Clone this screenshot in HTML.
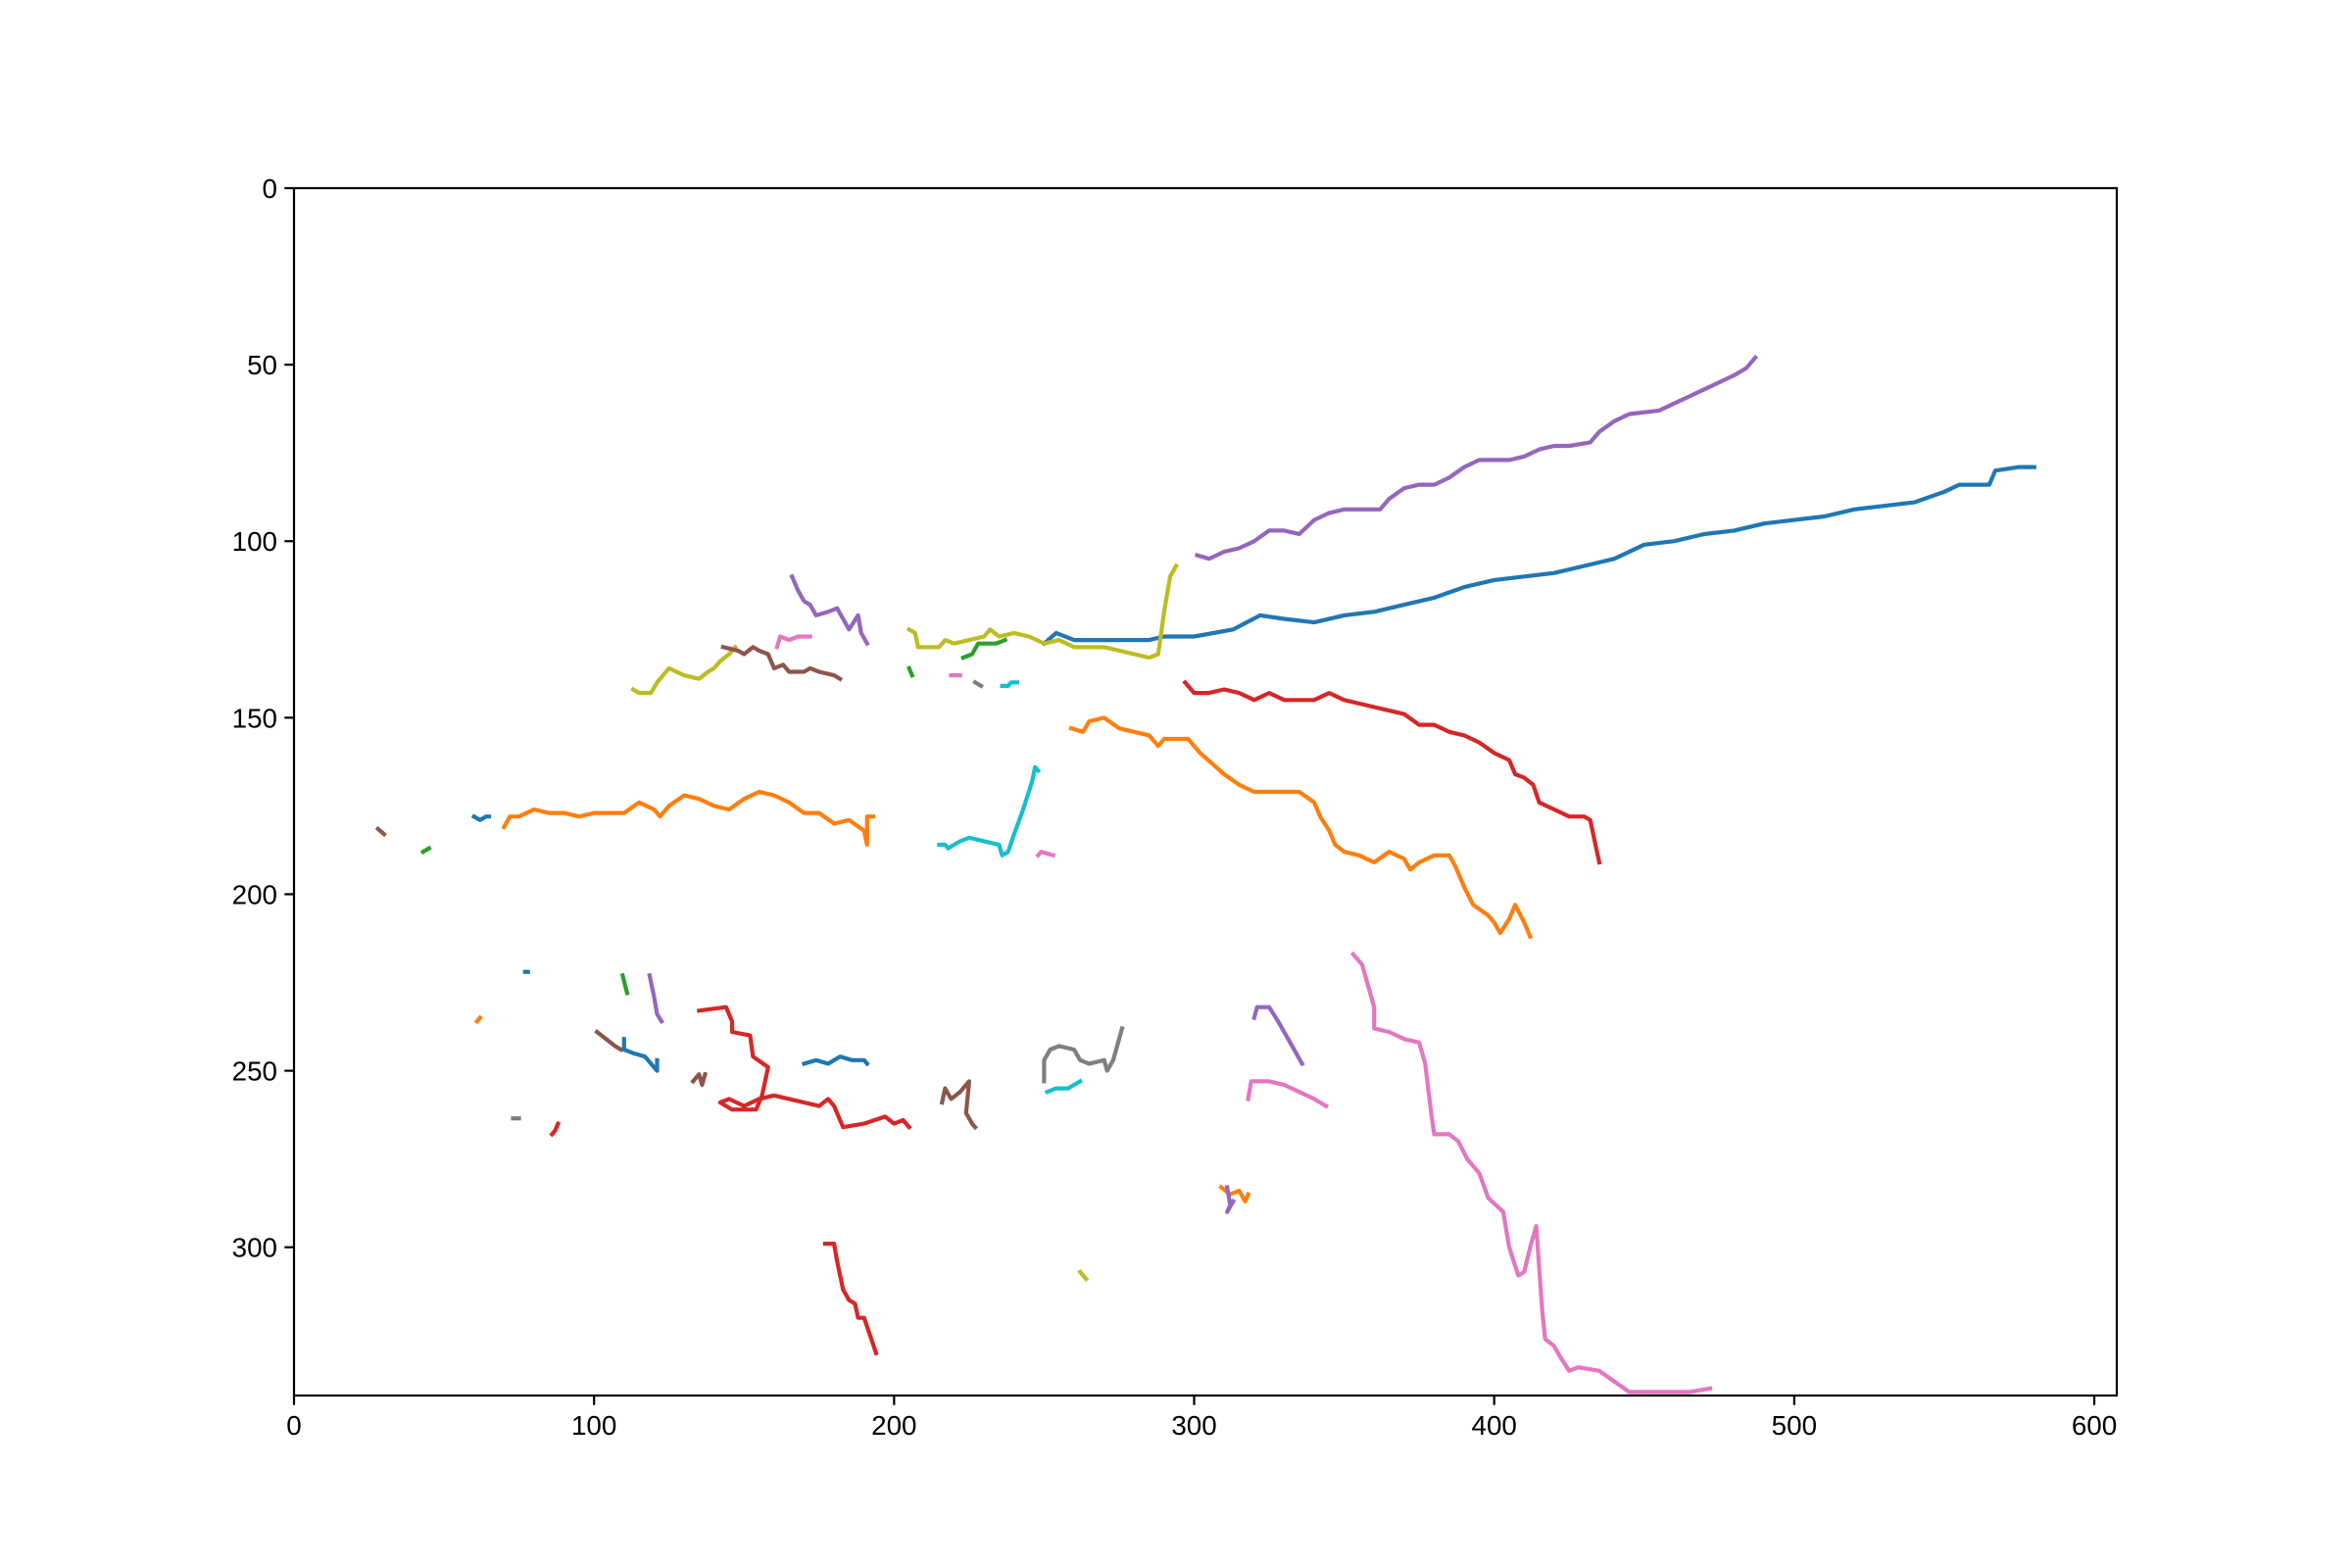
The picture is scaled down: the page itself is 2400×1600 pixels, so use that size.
<!DOCTYPE html>
<html><head><meta charset="utf-8"><style>
html,body{margin:0;padding:0;background:#fff;}
svg{display:block;font-family:"Liberation Sans","DejaVu Sans",sans-serif;}
</style></head><body>
<svg id="chart" width="2400" height="1600" viewBox="0 0 2400 1600" xmlns="http://www.w3.org/2000/svg">
<rect width="2400" height="1600" fill="#fff"/>
<g id="plot"></g>
<g id="axes"></g>
</svg>
<script>
const xTicks=[0,100,200,300,400,500,600];
const yTicks=[0,50,100,150,200,250,300];
const seriesColors=["#1f77b4","#9467bd","#d62728","#ff7f0e","#e377c2","#ff7f0e","#bcbd22","#bcbd22","#8c564b","#9467bd","#e377c2","#2ca02c","#2ca02c","#e377c2","#7f7f7f","#17becf","#17becf","#e377c2","#8c564b","#2ca02c","#1f77b4","#1f77b4","#2ca02c","#9467bd","#ff7f0e","#7f7f7f","#d62728","#8c564b","#1f77b4","#d62728","#8c564b","#8c564b","#1f77b4","#7f7f7f","#17becf","#9467bd","#e377c2","#ff7f0e","#9467bd","#bcbd22","#d62728"];
const trackBlue=[[250,129],[254,126],[260,128],[285,128],[290,127],[300,127],[313,125],[322,121],[330,122],[340,123],[350,121],[360,120],[370,118],[380,116],[390,113],[400,111],[410,110],[420,109],[430,107],[440,105],[450,101],[460,100],[470,98],[480,97],[490,95],[500,94],[510,93],[520,91],[530,90],[540,89],[550,86],[555,84],[565,84],[567,80],[575,79],[580,79]];
const trackPurple=[[301,104],[305,105],[310,103],[315,102],[320,100],[325,97],[330,97],[335,98],[340,94],[345,92],[350,91],[362,91],[365,88],[370,85],[375,84],[380,84],[385,82],[390,79],[395,77],[405,77],[410,76],[415,74],[420,73],[425,73],[432,72],[435,69],[440,66],[445,64],[455,63],[460,61],[465,59],[470,57],[475,55],[480,53],[484,51],[487,48]];
const trackRed=[[297,140],[300,143],[305,143],[310,142],[315,143],[320,145],[325,143],[330,145],[340,145],[345,143],[350,145],[360,147],[365,148],[370,149],[375,152],[380,152],[385,154],[390,155],[395,157],[400,160],[405,162],[407,166],[410,167],[413,169],[415,174],[420,176],[425,178],[430,178],[432,179],[434,187],[435,191]];
const trackOrange=[[259,153],[263,154],[265,151],[270,150],[275,153],[280,154],[285,155],[288,158],[290,156],[298,156],[302,160],[306,163],[310,166],[315,169],[320,171],[335,171],[340,174],[342,178],[345,182],[347,186],[350,188],[355,189],[360,191],[365,188],[370,190],[372,193],[375,191],[380,189],[385,189],[387,192],[390,198],[393,203],[398,206],[400,208],[402,211],[405,207],[407,203],[410,208],[412,212]];
const trackPink=[[353,217],[356,220],[358,226],[360,232],[360,238],[365,239],[370,241],[375,242],[377,248],[378,255],[379,262],[380,268],[385,268],[388,270],[391,275],[395,279],[398,286],[403,290],[405,300],[408,308],[410,307],[412,300],[414,294],[416,318],[417,326],[420,328],[422,331],[425,335],[428,334],[435,335],[440,338],[445,341],[465,341],[472,340]];
const trackOrangeLeft=[[70,181],[72,178],[75,178],[80,176],[85,177],[90,177],[95,178],[100,177],[110,177],[115,174],[120,176],[122,178],[125,175],[130,172],[135,173],[140,175],[145,176],[150,173],[155,171],[160,172],[165,174],[170,177],[175,177],[180,180],[185,179],[190,182],[191,186],[191,178],[193,178]];
const trackOliveA=[[113,142],[115,143],[119,143],[121,140],[125,136],[130,138],[135,139],[138,137],[140,136],[142,134],[145,132],[147,130]];
const trackOliveB=[[205,125],[207,126],[208,130],[215,130],[217,128],[220,129],[225,128],[230,127],[232,125],[235,127],[240,126],[245,127],[250,129],[255,128],[260,130],[270,130],[280,132],[285,133],[288,132],[290,120],[292,110],[294,107]];
const trackBrownA=[[143,130],[148,131],[150,132],[153,130],[155,131],[158,132],[160,136],[163,135],[165,137],[170,137],[172,136],[175,137],[180,138],[182,139]];
const trackPurpleA=[[166,110],[168,114],[170,117],[172,118],[174,121],[178,120],[181,119],[183,122],[185,125],[188,121],[189,126],[191,129]];
const trackPinkA=[[161,130],[162,127],[165,128],[168,127],[172,127]];
const trackGreenA=[[223,133],[226,132],[228,129],[231,129],[234,129],[237,128]];
const trackGreenB=[[205,136],[206,138]];
const trackPinkB=[[219,138],[222,138]];
const trackGrayA=[[227,140],[229,141]];
const trackCyanA=[[236,141],[238,141],[239,140],[241,140]];
const trackCyanB=[[215,186],[217,186],[218,187],[220,186],[222,185],[225,184],[230,185],[235,186],[236,189],[238,188],[240,183],[243,176],[246,168],[247,164],[248,165]];
const trackPinkC=[[248,189],[249,188],[253,189]];
const trackBrownB=[[28,181.5],[30,183]];
const trackGreenC=[[43,188],[45,187]];
const trackBlueA=[[60,178],[62,179],[64,178],[65,178]];
const trackBlueB=[[77,222],[78,222]];
const trackGreenD=[[109.5,223],[111,228]];
const trackPurpleB=[[118.5,223],[120,229],[121,234],[122.5,236]];
const trackOrangeA=[[61,236],[62,235]];
const trackGrayB=[[73,263.5],[75,263.5]];
const trackRedA=[[86,268],[87,267],[88,265]];
const trackBrownC=[[101,239],[104,241],[107,243],[109,244]];
const trackBlueC=[[110,241],[110,244],[113,245],[117,246],[119,248],[121,250],[121,247]];
const trackRedB=[[135,233],[144,232],[146,236],[146,239],[152,240],[153,246],[158,249],[156,257],[154,261],[146,261],[142,259],[145,258],[150,260],[155,258],[160,257],[165,258],[170,259],[175,260],[178,258],[180,260],[183,266],[190,265],[197,263],[200,265],[203,264],[205,266]];
const trackBrownD=[[133,253],[135,251],[136,254],[137,251]];
const trackBrownE=[[216,259],[217,255],[219,258],[222,256],[225,253],[224,262],[226,265],[227,266]];
const trackBlueD=[[170,248],[174,247],[178,248],[182,246],[186,247],[190,247],[191,248]];
const trackGrayC=[[250,253],[250,247],[252,244],[255,243],[260,244],[262,247],[265,248],[270,247],[271,250],[273,247],[276,238]];
const trackCyanC=[[251,256],[254,255],[258,255],[262,253]];
const trackPurpleC=[[320,235],[321,232],[325,232],[328,236],[332,242],[336,248]];
const trackPinkD=[[318,258],[319,253],[325,253],[330,254],[335,256],[340,258],[344,260]];
const trackOrangeB=[[309,283],[312,285],[315,284],[317,287],[318,285]];
const trackPurpleD=[[311,283],[312,288],[311,290],[313,287]];
const trackOliveC=[[262,307],[264,309]];
const trackRedC=[[177,299],[180,299],[181,304],[183,312],[185,315],[187,316],[188,320],[190,320],[192,325],[194,330]];
const allTracks=[trackBlue,trackPurple,trackRed,trackOrange,trackPink,trackOrangeLeft,trackOliveA,trackOliveB,trackBrownA,trackPurpleA,trackPinkA,trackGreenA,trackGreenB,trackPinkB,trackGrayA,trackCyanA,trackCyanB,trackPinkC,trackBrownB,trackGreenC,trackBlueA,trackBlueB,trackGreenD,trackPurpleB,trackOrangeA,trackGrayB,trackRedA,trackBrownC,trackBlueC,trackRedB,trackBrownD,trackBrownE,trackBlueD,trackGrayC,trackCyanC,trackPurpleC,trackPinkD,trackOrangeB,trackPurpleD,trackOliveC,trackRedC];

const L=300,R=2160,T=192,B=1424,XMAX=607.5,YMAX=342;
const xs=v=>L+v/XMAX*(R-L);
const ys=v=>T+v/YMAX*(B-T);
const NS="http://www.w3.org/2000/svg";
const plot=document.getElementById('plot'),axes=document.getElementById('axes');
function mk(tag,attrs,parent){const e=document.createElementNS(NS,tag);for(const k in attrs)e.setAttribute(k,attrs[k]);parent.appendChild(e);return e;}
const cp=mk('clipPath',{id:'clip'},plot);mk('rect',{x:L,y:T,width:R-L,height:B-T},cp);
allTracks.forEach((tr,i)=>{
  const p=mk('polyline',{points:tr.map(d=>xs(d[0]).toFixed(1)+','+ys(d[1]).toFixed(1)).join(' '),fill:'none',stroke:seriesColors[i],'stroke-width':4.2,'stroke-linejoin':'round','stroke-linecap':'square','clip-path':'url(#clip)'},plot);
  
  
});
const frame=mk('rect',{x:L,y:T,width:R-L,height:B-T,fill:'none',stroke:'#000','stroke-width':2.2},axes);


xTicks.forEach(v=>{
  const x=xs(v);
  const t=mk('line',{x1:x,y1:B,x2:x,y2:B+9.7,stroke:'#000','stroke-width':2.2},axes);
  
  
  const l=mk('text',{x:x,y:B+40,'font-size':27.8,'text-anchor':'middle',fill:'#000'},axes);
  l.textContent=v;
  
  
});
yTicks.forEach(v=>{
  const y=ys(v);
  const t=mk('line',{x1:L-9.7,y1:y,x2:L,y2:y,stroke:'#000','stroke-width':2.2},axes);
  
  
  const l=mk('text',{x:L-17,y:y+10,'font-size':27.8,'text-anchor':'end',fill:'#000'},axes);
  l.textContent=v;
  
  
});
</script>
</body></html>
